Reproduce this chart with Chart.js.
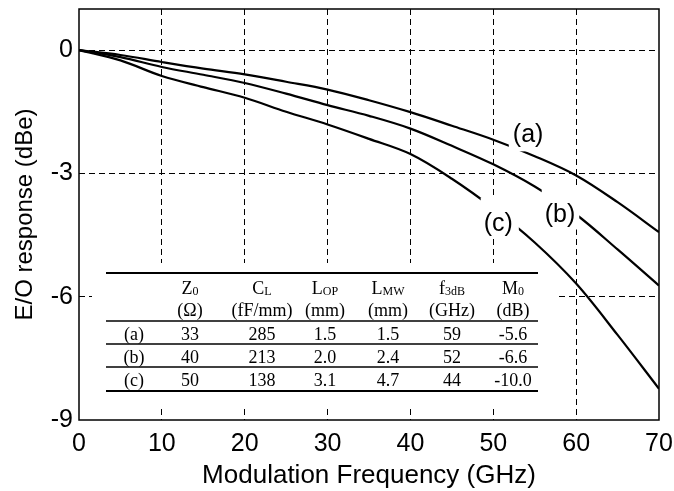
<!DOCTYPE html>
<html>
<head>
<meta charset="utf-8">
<script src="https://cdn.jsdelivr.net/npm/chart.js@4.4.0/dist/chart.umd.min.js"></script>
<style>
body{margin:0;background:#fff;}
#wrap{width:674px;height:491px;}
</style>
</head>
<body>
<div id="wrap"><canvas id="chart" width="674" height="491"></canvas></div>
<script>

// data
const freq = [0,5,10,15,20,25,30,35,40,45,50,55,60,65,70];
const respA = [0,-0.12,-0.29,-0.45,-0.59,-0.77,-0.96,-1.22,-1.51,-1.84,-2.18,-2.58,-3.05,-3.70,-4.43];
const respB = [0,-0.17,-0.41,-0.60,-0.80,-1.06,-1.34,-1.60,-1.91,-2.33,-2.78,-3.32,-4.00,-4.85,-5.73];
const respC = [0,-0.25,-0.63,-0.90,-1.16,-1.50,-1.81,-2.16,-2.53,-3.13,-3.85,-4.68,-5.68,-6.93,-8.24];

const xTicks = [0,10,20,30,40,50,60,70];
const yTicks = [0,-3,-6,-9];

// table
const headTop = [['',''],['Z','0'],['C','L'],['L','OP'],['L','MW'],['f','3dB'],['M','0']];
const headUnit = ['','(\u03A9)','(fF/mm)','(mm)','(mm)','(GHz)','(dB)'];
const rowA = ['(a)','33','285','1.5','1.5','59','-5.6'];
const rowB = ['(b)','40','213','2.0','2.4','52','-6.6'];
const rowC = ['(c)','50','138','3.1','4.7','44','-10.0'];

// curve labels (anchor in data units, white box padding t,r,b,l)
const curveLabels = [
  {text:'(a)', x:54.2, y:-2.05, pad:[4,4,4,4]},
  {text:'(b)', x:58.05, y:-4.0, pad:[13,4,2,3]},
  {text:'(c)', x:50.6, y:-4.2, pad:[12,6,2,3]}
];

const SANS = '"Liberation Sans", Arial, sans-serif';
const SERIF = '"Liberation Serif", "Times New Roman", serif';

const colX = [134,190,262,325,388,452,513];
const tableBox = {l:92, t:263, r:555, b:407};

function drawCell(ctx, main, sub, cx, base){
  ctx.font = '18px ' + SERIF;
  const w1 = ctx.measureText(main).width;
  ctx.font = '12px ' + SERIF;
  const w2 = sub ? ctx.measureText(sub).width : 0;
  const x0 = cx - (w1 + w2)/2;
  ctx.textAlign = 'left';
  ctx.textBaseline = 'alphabetic';
  ctx.font = '18px ' + SERIF;
  ctx.fillText(main, x0, base);
  if(sub){
    ctx.font = '12px ' + SERIF;
    ctx.fillText(sub, x0 + w1, base + 1);
  }
}

const tablePlugin = {
  id:'table',
  afterDatasetsDraw(chart){
    const ctx = chart.ctx;
    ctx.save();
    ctx.fillStyle = '#fff';
    ctx.fillRect(tableBox.l, tableBox.t, tableBox.r-tableBox.l, tableBox.b-tableBox.t);
    ctx.strokeStyle = '#000';
    const hl = (y,w) => {ctx.lineWidth=w; ctx.beginPath(); ctx.moveTo(106,y); ctx.lineTo(538,y); ctx.stroke();};
    hl(273,2); hl(321,1.5); hl(344,1.5); hl(367,1.5); hl(391,2);
    ctx.fillStyle = '#000';
    headTop.forEach((h,i) => drawCell(ctx, h[0], h[1], colX[i], 294));
    headUnit.forEach((h,i) => drawCell(ctx, h, '', colX[i], 316));
    [rowA,rowB,rowC].forEach((row,r) => {
      row.forEach((v,i) => drawCell(ctx, v, '', colX[i], 340 + r*23));
    });
    // curve labels
    const xs = chart.scales.x, ys = chart.scales.y;
    ctx.font = '25px ' + SANS;
    ctx.textAlign = 'center';
    ctx.textBaseline = 'middle';
    curveLabels.forEach(l => {
      const px = xs.getPixelForValue(l.x), py = ys.getPixelForValue(l.y);
      const w = ctx.measureText(l.text).width;
      ctx.fillStyle = '#fff';
      ctx.fillRect(px - w/2 - l.pad[3], py - 13 - l.pad[0], w + l.pad[1] + l.pad[3], 26 + l.pad[0] + l.pad[2]);
      ctx.fillStyle = '#000';
      ctx.fillText(l.text, px, py + 1);
    });
    ctx.restore();
  },
  afterDraw(chart){
    const a = chart.chartArea, ctx = chart.ctx;
    ctx.save();
    ctx.strokeStyle = '#000';
    ctx.lineWidth = 1.5;
    ctx.strokeRect(a.left, a.top, a.right-a.left, a.bottom-a.top);
    ctx.restore();
  }
};

const lineSet = (d) => ({
  data: freq.map((f,i) => ({x:f, y:d[i]})),
  borderColor:'#000',
  borderWidth:2.2,
  pointRadius:0,
  fill:false,
  tension:0.35
});

const ctx = document.getElementById('chart').getContext('2d');

const chart = new Chart(ctx,{
type:'line',
data:{
datasets:[lineSet(respA), lineSet(respB), lineSet(respC)]
},
options:{
responsive:false,
animation:false,
devicePixelRatio:1,
layout:{padding:{top:9,right:15,left:0,bottom:0}},
plugins:{legend:{display:false}, tooltip:{enabled:false}},
scales:{
x:{
type:'linear', min:0, max:70,
afterBuildTicks: s => { s.ticks = xTicks.map(v => ({value:v})); },
afterFit: s => { s.height = 71; s.paddingLeft = 0; s.paddingRight = 0; },
grid:{
color: c => (c.tick && (c.tick.value===0 || c.tick.value===70)) ? 'rgba(0,0,0,0)' : '#000',
lineWidth:1, drawTicks:false
},
border:{display:false, dash:[6,4]},
ticks:{color:'#000', font:{family:SANS, size:25}, padding:9, maxRotation:0, autoSkip:false},
title:{display:true, text:'Modulation Frequency (GHz)', color:'#000', font:{family:SANS, size:26}, padding:0}
},
y:{
type:'linear', min:-9, max:1,
afterBuildTicks: s => { s.ticks = yTicks.map(v => ({value:v})); },
afterFit: s => { s.width = 79; s.paddingTop = 0; s.paddingBottom = 0; },
grid:{
color: c => (c.tick && c.tick.value===-9) ? 'rgba(0,0,0,0)' : '#000',
lineWidth:1, drawTicks:false
},
border:{display:false, dash:[6,4]},
ticks:{color:'#000', font:{family:SANS, size:25}, padding:6, autoSkip:false},
title:{display:true, text:'E/O response (dBe)', color:'#000', font:{family:SANS, size:24}, padding:{top:11,bottom:0}}
}
}
},
plugins:[tablePlugin]
});

</script>
</body>
</html>
